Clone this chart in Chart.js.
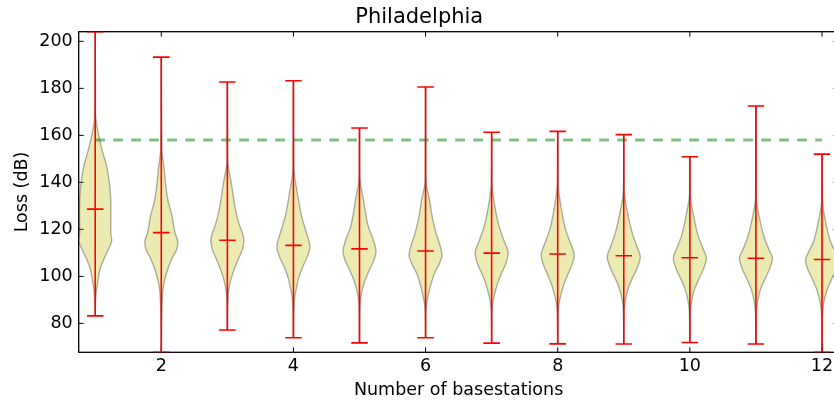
<!DOCTYPE html>
<html><head><meta charset="utf-8">
<script src="https://cdn.jsdelivr.net/npm/chart.js@4"></script>
<style>
html,body{margin:0;padding:0;overflow:hidden;background:#fff;width:834px;height:402px}
#wrap{width:848px;height:402px}
</style></head>
<body><div id="wrap"><canvas id="c" width="848" height="402"></canvas></div>
<script>
const basestations = [1,2,3,4,5,6,7,8,9,10,11,12];
const xTicks = [2,4,6,8,10,12];
const yTicks = [80,100,120,140,160,180,200];
const lossMax  = [204.1,193.3,182.7,183.2,163.1,180.6,161.3,161.7,160.3,150.9,172.5,152.0];
const lossMean = [128.6,118.6,115.4,113.2,111.7,110.8,109.9,109.5,108.8,107.9,107.7,107.2];
const lossMin  = [83.2,67.7,77.2,73.9,71.7,73.9,71.6,71.3,71.2,71.9,71.2,67.7];
const thresholdLoss = 158;
// violin profiles: [loss value, relative density (1 = widest)]
const violinProfiles = [
  [[91.3,0.04],[97,0.14],[102.7,0.28],[107,0.5],[111.2,0.78],[115.4,1.0],[118.3,0.94],[125.4,0.95],[132.5,0.94],[139.6,0.86],[146.6,0.70],[153.7,0.42],[160.9,0.18],[169.4,0.02]],
  [[92.8,0.08],[98.4,0.2],[104,0.44],[108.4,0.7],[111.2,0.92],[114.7,1.0],[118.3,0.84],[121.1,0.76],[125.4,0.66],[132.5,0.4],[139.6,0.26],[146.6,0.16],[153.7,0.04]],
  [[92.8,0.06],[97.7,0.18],[102.7,0.4],[107,0.64],[111.2,0.9],[115.4,1.0],[119,0.88],[122.5,0.7],[128.2,0.5],[139.6,0.24],[149.5,0.02]],
  [[90,0.06],[95.6,0.2],[99.8,0.34],[104,0.56],[108.3,0.84],[112.6,1.0],[118.3,0.8],[125.4,0.5],[135.3,0.24],[146.6,0.02]],
  [[88.5,0.04],[93.4,0.14],[98.4,0.34],[102.7,0.6],[107,0.88],[110.5,1.0],[115.4,0.84],[121.1,0.54],[132.5,0.24],[142.4,0.02]],
  [[87.1,0.04],[91.3,0.14],[97,0.34],[101.3,0.54],[105.5,0.84],[109,1.0],[112.6,0.9],[118.3,0.64],[124,0.44],[132.5,0.24],[141,0.02]],
  [[87.1,0.04],[91.3,0.14],[97,0.36],[101.3,0.6],[105.5,0.86],[109.8,1.0],[115.4,0.74],[121.1,0.46],[129.6,0.2],[139.6,0.02]],
  [[86.4,0.04],[90.6,0.14],[96.3,0.36],[100.6,0.6],[104.8,0.86],[109,1.0],[114.7,0.74],[120.4,0.46],[129.6,0.2],[139.6,0.02]],
  [[85.7,0.03],[90,0.1],[95.6,0.3],[99.8,0.56],[104,0.84],[108.3,1.0],[112.6,0.8],[118.3,0.52],[126.8,0.24],[136.7,0.02]],
  [[84.9,0.03],[89.2,0.1],[94.9,0.3],[99.1,0.56],[103.4,0.84],[107.7,1.0],[111.9,0.8],[116.9,0.52],[125.4,0.24],[135.3,0.02]],
  [[84.9,0.03],[89.2,0.1],[94.9,0.3],[99.1,0.56],[103.4,0.84],[107.7,1.0],[111.2,0.8],[116.2,0.52],[124,0.24],[133.9,0.02]],
  [[84.3,0.03],[88.5,0.1],[94.1,0.3],[98.4,0.56],[102.7,0.84],[107,1.0],[110.5,0.8],[114.7,0.52],[122.6,0.24],[132.5,0.02]]
];

const FAMILY = "'DejaVu Sans', 'Liberation Sans', sans-serif";
const HALF = 0.25;   // half of violin width (x units)
const CAP = 0.125;   // half length of extrema / mean caps
const RED = '#ff0000';

const datasets = [];
basestations.forEach((b, i) => {
  const prof = [[lossMin[i], 0], ...violinProfiles[i], [lossMax[i], 0]];
  [1, -1].forEach(side => {
    datasets.push({
      type: 'line',
      indexAxis: 'y',
      data: prof.map(([v, d]) => ({x: b + side * d * HALF, y: v})),
      fill: {value: b},
      backgroundColor: 'rgba(191,191,0,0.3)',
      borderColor: 'rgba(0,0,0,0.3)',
      borderWidth: 1.4,
      pointRadius: 0,
      cubicInterpolationMode: 'monotone',
      order: 3
    });
  });
});

function segs(fn) {
  const out = [];
  basestations.forEach((b, i) => { out.push(...fn(b, i)); out.push({x: b, y: null}); });
  return out;
}
const redLine = (data) => ({
  type: 'line', data, borderColor: RED, borderWidth: 1.6, pointRadius: 0,
  fill: false, tension: 0, spanGaps: false, order: 0, borderCapStyle: 'butt'
});
datasets.push(redLine(segs((b, i) => [{x: b, y: lossMin[i]}, {x: b, y: lossMax[i]}])));
datasets.push(redLine(segs((b, i) => [{x: b - CAP, y: lossMax[i]}, {x: b + CAP, y: lossMax[i]}])));
datasets.push(redLine(segs((b, i) => [{x: b - CAP, y: lossMin[i]}, {x: b + CAP, y: lossMin[i]}])));
datasets.push(redLine(segs((b, i) => [{x: b - CAP, y: lossMean[i]}, {x: b + CAP, y: lossMean[i]}])));

datasets.push({
  type: 'line',
  data: [{x: basestations[0], y: thresholdLoss}, {x: basestations[basestations.length - 1], y: thresholdLoss}],
  borderColor: 'rgba(0,128,0,0.5)', borderWidth: 3, borderDash: [9.7, 8.3], borderCapStyle: 'butt',
  pointRadius: 0, fill: false, order: 2
});

const frame = {
  id: 'frame',
  beforeDatasetsDraw(chart) {
    const {ctx, chartArea: {left, right, top, bottom}, scales: {x, y}} = chart;
    ctx.save();
    ctx.strokeStyle = '#000';
    ctx.lineWidth = 1.3;
    ctx.strokeRect(left, top, right - left, bottom - top);
    ctx.lineWidth = 1;
    ctx.beginPath();
    xTicks.forEach(t => {
      const px = x.getPixelForValue(t);
      ctx.moveTo(px, bottom); ctx.lineTo(px, bottom - 5);
      ctx.moveTo(px, top); ctx.lineTo(px, top + 5);
    });
    yTicks.forEach(t => {
      const py = y.getPixelForValue(t);
      ctx.moveTo(left, py); ctx.lineTo(left + 5, py);
      ctx.moveTo(right, py); ctx.lineTo(right - 5, py);
    });
    ctx.stroke();
    ctx.restore();
  }
};

Chart.defaults.font.family = FAMILY;
Chart.defaults.color = '#000';

new Chart(document.getElementById('c'), {
  type: 'line',
  data: {datasets},
  plugins: [frame],
  options: {
    responsive: false,
    animation: false,
    devicePixelRatio: 1,
    layout: {padding: {left: 0, right: 9.5, top: 0, bottom: 0}},
    plugins: {
      legend: {display: false},
      tooltip: {enabled: false},
      title: {
        display: true, text: 'Philadelphia', color: '#000',
        font: {family: FAMILY, size: 21, weight: 'normal'},
        padding: {top: 5.1, bottom: 1.4}
      }
    },
    scales: {
      x: {
        type: 'linear', min: 0.75, max: 12.25,
        grid: {display: false, drawTicks: false},
        border: {display: false},
        afterBuildTicks: s => { s.ticks = xTicks.map(v => ({value: v})); },
        afterFit: s => { s.height = 49.7; },
        ticks: {color: '#000', font: {family: FAMILY, size: 17.5}, padding: 3.9, maxRotation: 0, autoSkip: false,
                callback: v => String(v)},
        title: {display: true, text: 'Number of basestations', color: '#000',
                font: {family: FAMILY, size: 17.5}, padding: {top: 0, bottom: 0.9}}
      },
      y: {
        type: 'linear', min: Math.min(...lossMin), max: Math.max(...lossMax),
        grid: {display: false, drawTicks: false},
        border: {display: false},
        afterBuildTicks: s => { s.ticks = yTicks.map(v => ({value: v})); },
        afterFit: s => { s.width = 78.7; },
        ticks: {color: '#000', font: {family: FAMILY, size: 17.5}, padding: 6, autoSkip: false,
                callback: v => String(v)},
        title: {display: true, text: 'Loss (dB)', color: '#000',
                font: {family: FAMILY, size: 17.5}, padding: {top: 11.8, bottom: 0}}
      }
    }
  }
});
</script>
</body></html>
